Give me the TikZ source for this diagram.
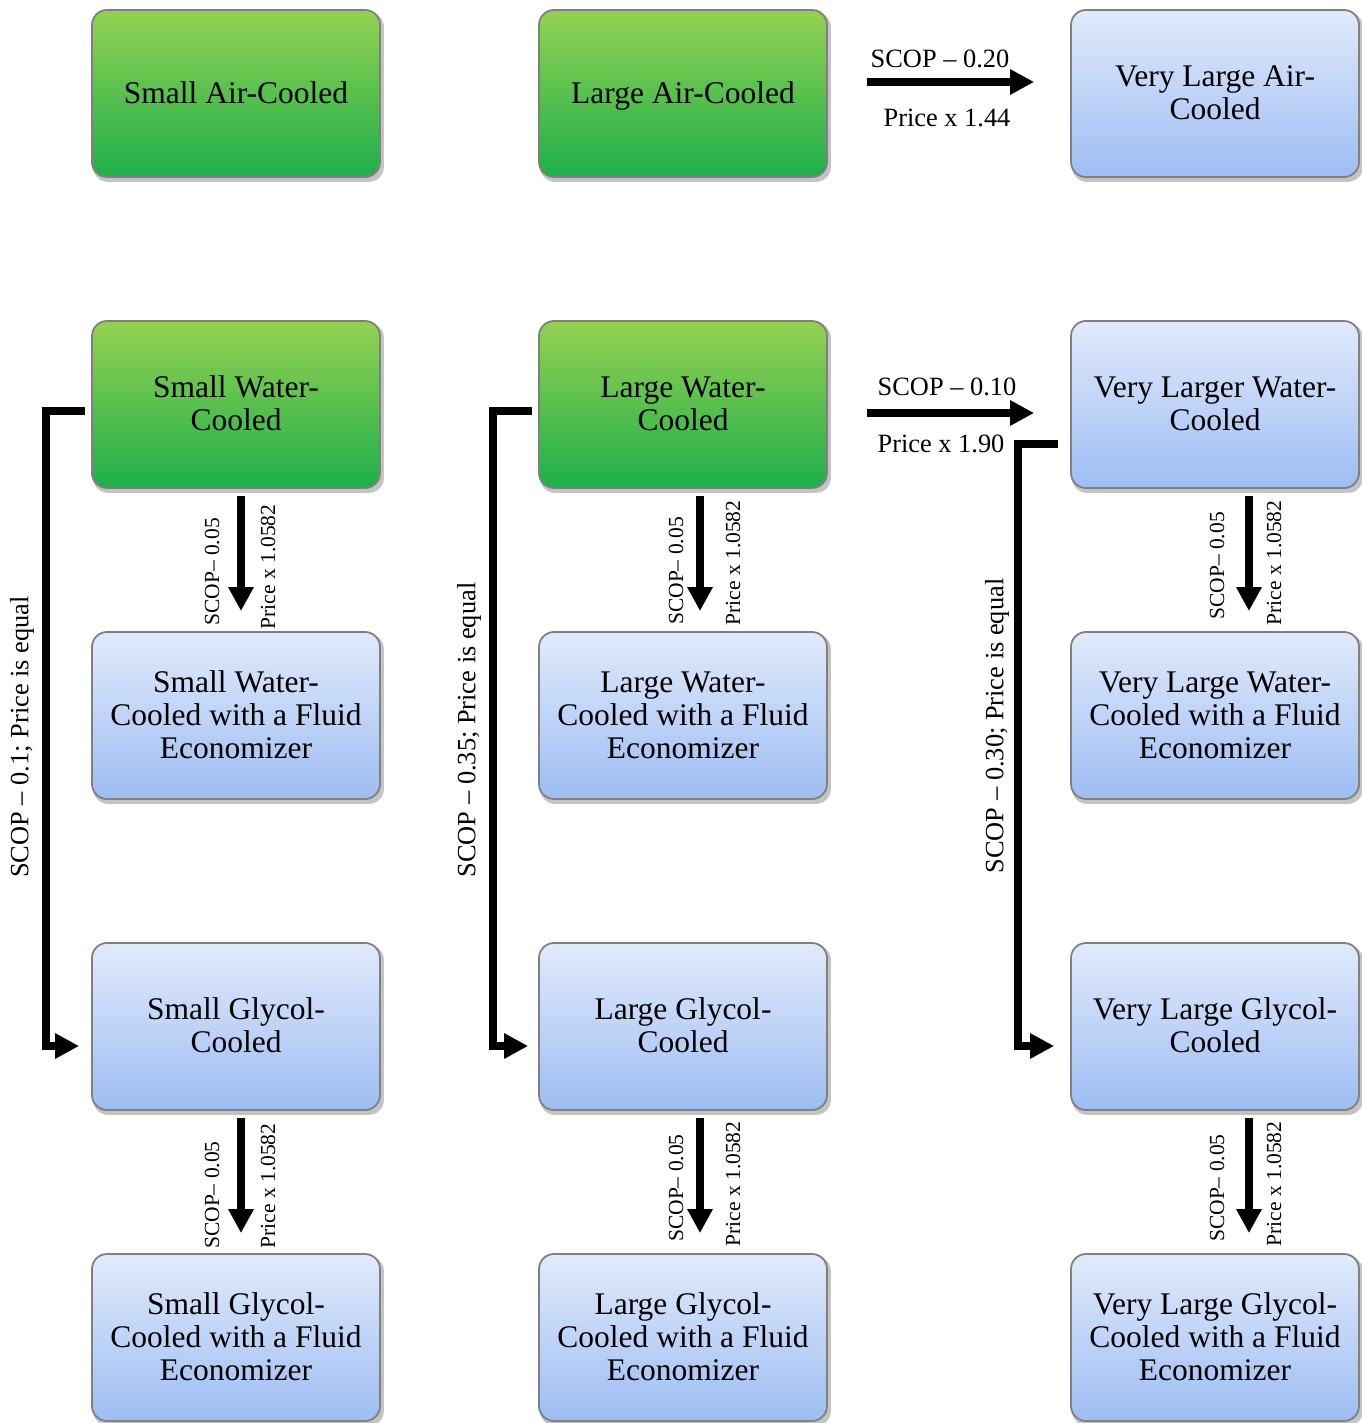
\documentclass[tikz,border=0pt]{standalone}
\usepackage{fontspec}
\setmainfont{Liberation Serif}
\newfontfamily\boxfam{Liberation Serif}
\usetikzlibrary{arrows.meta,backgrounds}
\definecolor{gtop}{HTML}{94D152}
\definecolor{gmid}{HTML}{8ACD50}
\definecolor{gbot}{HTML}{1EAF4A}
\definecolor{btop}{HTML}{E1EAFB}
\definecolor{bmid}{HTML}{C6D7F6}
\definecolor{bbot}{HTML}{9DBDF3}
\definecolor{bord}{HTML}{808080}
\definecolor{shad}{HTML}{C4C4C4}
\tikzset{
  box/.style={draw=bord, line width=1.8pt, rounded corners=15pt, inner sep=0pt,
    minimum width=288pt, minimum height=167pt},
  gbox/.style={box, top color=gtop, middle color=gmid, bottom color=gbot},
  bbox/.style={box, top color=btop, middle color=bmid, bottom color=bbot},
  bline/.style={font=\boxfam\fontsize{31.5}{33}\selectfont, inner sep=0pt, anchor=base},
  shadowbox/.style={fill=shad, draw=none, rounded corners=15pt},
  arr/.style={line width=7.5pt, -{Triangle[length=24pt,width=24pt]}},
  lab/.style={font=\fontsize{26.4}{30}\selectfont, inner sep=0pt},
  slab/.style={font=\fontsize{21.5}{24}\selectfont, inner sep=0pt, rotate=90},
}
\begin{document}
\begin{tikzpicture}[x=1pt,y=-1pt]
\useasboundingbox (0,0) rectangle (1361,1423);
% boxes
\node[gbox] (sa) at (236,93.5) {};
\node[gbox] (la) at (683,93.5) {};
\node[bbox] (va) at (1215,93.5) {};
\node[gbox] (sw) at (236,404.5) {};
\node[gbox] (lw) at (683,404.5) {};
\node[bbox] (vw) at (1215,404.5) {};
\node[bbox] (swf) at (236,715.5) {};
\node[bbox] (lwf) at (683,715.5) {};
\node[bbox] (vwf) at (1215,715.5) {};
\node[bbox] (sg) at (236,1026.5) {};
\node[bbox] (lg) at (683,1026.5) {};
\node[bbox] (vg) at (1215,1026.5) {};
\node[bbox] (sgf) at (236,1337.5) {};
\node[bbox] (lgf) at (683,1337.5) {};
\node[bbox] (vgf) at (1215,1337.5) {};
% shadows
\begin{scope}[on background layer]
\foreach \n in {sa,la,va,sw,lw,vw,swf,lwf,vwf,sg,lg,vg,sgf,lgf,vgf}{
  \path[shadowbox] ([shift={(2pt,-4pt)}]\n.south west) rectangle ([shift={(3pt,-3pt)}]\n.north east);
}
\end{scope}
% box texts: one node per line (baseline offsets from box centre)
\node[bline] (sat) at ([yshift=-10.5pt]sa.center) {Small Air-Cooled};
\node[bline] (lat) at ([yshift=-10.5pt]la.center) {Large Air-Cooled};
\foreach \n/\a/\b in {va/Very Large Air-/Cooled, sw/Small Water-/Cooled, lw/Large Water-/Cooled, vw/Very Larger Water-/Cooled, sg/Small Glycol-/Cooled, lg/Large Glycol-/Cooled, vg/Very Large Glycol-/Cooled}{
  \node[bline] (\n t1) at ([yshift=7pt]\n.center) {\a};
  \node[bline] (\n t2) at ([yshift=-26pt]\n.center) {\b};
}
\foreach \n/\a in {swf/Small Water-, lwf/Large Water-, vwf/Very Large Water-, sgf/Small Glycol-, lgf/Large Glycol-, vgf/Very Large Glycol-}{
  \node[bline] (\n t1) at ([yshift=23pt]\n.center) {\a};
  \node[bline] (\n t2) at ([yshift=-10pt]\n.center) {Cooled with a Fluid};
  \node[bline] (\n t3) at ([yshift=-43pt]\n.center) {Economizer};
}
% horizontal arrows
\draw[arr] ([xshift=39pt,yshift=11.5pt]la.east) -- ([xshift=-36pt,yshift=11.5pt]va.west);
\node[lab] (h1a) at (940,59) {SCOP -- 0.20};
\node[lab] (h1b) at (947,118) {Price x 1.44};
\draw[arr] ([xshift=39pt,yshift=-8.5pt]lw.east) -- ([xshift=-36pt,yshift=-8.5pt]vw.west);
\node[lab] (h2a) at (947,387) {SCOP -- 0.10};
\node[lab] (h2b) at (941,444) {Price x 1.90};
% vertical arrows
\foreach \a/\b/\dx in {sw/swf/5, lw/lwf/17, vw/vwf/34, sg/sgf/5, lg/lgf/17, vg/vgf/34}{
  \draw[arr] ([xshift=\dx pt,yshift=-7pt]\a.south) -- ([xshift=\dx pt,yshift=20pt]\b.north);
}
\node[slab] (v1a) at (212,572) {SCOP-- 0.05};
\node[slab] (v1b) at (268,567) {Price x 1.0582};
\node[slab] (v2a) at (676,571) {SCOP-- 0.05};
\node[slab] (v2b) at (733,563) {Price x 1.0582};
\node[slab] (v3a) at (1217,566) {SCOP-- 0.05};
\node[slab] (v3b) at (1274,563) {Price x 1.0582};
\node[slab] (v4a) at (212,1195) {SCOP-- 0.05};
\node[slab] (v4b) at (268,1186) {Price x 1.0582};
\node[slab] (v5a) at (676,1188) {SCOP-- 0.05};
\node[slab] (v5b) at (733,1184) {Price x 1.0582};
\node[slab] (v6a) at (1217,1188) {SCOP-- 0.05};
\node[slab] (v6b) at (1274,1184) {Price x 1.0582};
% elbow arrows
\draw[arr] ([xshift=-6pt,yshift=-6.5pt]sw.west) -- ++(-39,0) |- ([xshift=-12pt,yshift=-19.5pt]sg.west);
\draw[arr] ([xshift=-6pt,yshift=-6.5pt]lw.west) -- ++(-39,0) |- ([xshift=-10pt,yshift=-19.5pt]lg.west);
\draw[arr] ([xshift=-12pt,yshift=-39.5pt]vw.west) -- ++(-40,0) |- ([xshift=-16pt,yshift=-19.5pt]vg.west);
\node[lab,rotate=90] (e1) at (22,737) {SCOP -- 0.1; Price is equal};
\node[lab,rotate=90] (e2) at (469,730) {SCOP -- 0.35; Price is equal};
\node[lab,rotate=90] (e3) at (997,726) {SCOP -- 0.30; Price is equal};
\end{tikzpicture}
\end{document}
